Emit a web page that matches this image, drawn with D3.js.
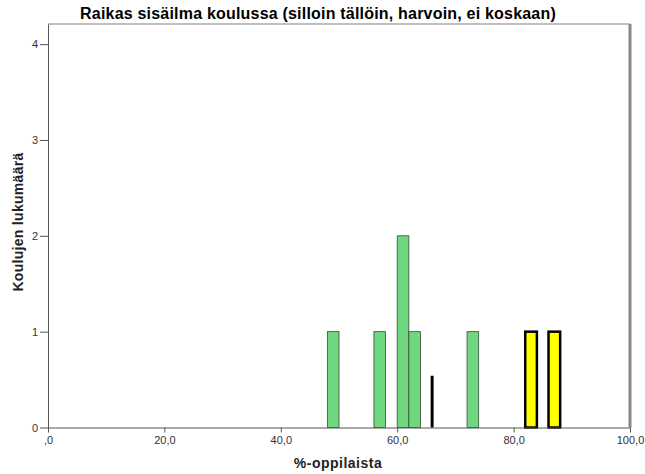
<!DOCTYPE html>
<html><head><meta charset="utf-8">
<script src="https://cdn.jsdelivr.net/npm/d3@7"></script>
<style>body{margin:0;background:#fff}svg{display:block}</style>
</head><body>
<script>
const greenBinStart = [48, 56, 60, 62, 72];
const greenCounts = [1, 1, 2, 1, 1];
const yellowBinStart = [82, 86];
const yellowCounts = [1, 1];
const binWidth = 2;
const markerX = [66];
const markerH = [0.54];
const xTickValues = [0, 20, 40, 60, 80, 100];
const xTickLabels = [",0", "20,0", "40,0", "60,0", "80,0", "100,0"];
const yTickValues = [0, 1, 2, 3, 4];

const W = 645, H = 474;
const m = {l: 48, r: 15, t: 24, b: 46.5};
const svg = d3.select("body").append("svg").attr("width", W).attr("height", H);
const x = d3.scaleLinear().domain([0, 100]).range([m.l, W - m.r]);
const y = d3.scaleLinear().domain([0, 4.21]).range([H - m.b, m.t]);

// frame
svg.append("line").attr("x1", m.l).attr("x2", W - m.r).attr("y1", m.t).attr("y2", m.t)
  .attr("stroke", "#aaa").attr("stroke-width", 1.5);
svg.append("line").attr("x1", W - m.r).attr("x2", W - m.r).attr("y1", m.t).attr("y2", H - m.b)
  .attr("stroke", "#888").attr("stroke-width", 3);

const green = greenBinStart.map((s, i) => ({s, c: greenCounts[i]}));
const yellow = yellowBinStart.map((s, i) => ({s, c: yellowCounts[i]}));

svg.selectAll("rect.g").data(green).join("rect").attr("class", "g")
  .attr("x", d => x(d.s)).attr("width", d => x(d.s + binWidth) - x(d.s))
  .attr("y", d => y(d.c)).attr("height", d => y(0) - y(d.c))
  .attr("fill", "#6fd77e").attr("stroke", "#3a4a3c").attr("stroke-width", 0.8);

svg.selectAll("rect.y").data(yellow).join("rect").attr("class", "y")
  .attr("x", d => x(d.s)).attr("width", d => x(d.s + binWidth) - x(d.s))
  .attr("y", d => y(d.c)).attr("height", d => y(0) - y(d.c))
  .attr("fill", "#ffff00").attr("stroke", "#000").attr("stroke-width", 2.5);

svg.selectAll("line.mk").data(markerX).join("line").attr("class", "mk")
  .attr("x1", d => x(d)).attr("x2", d => x(d))
  .attr("y1", y(0)).attr("y2", (d, i) => y(markerH[i]))
  .attr("stroke", "#000").attr("stroke-width", 3);

// axes
const xa = svg.append("g").attr("transform", `translate(0,${H - m.b})`)
  .call(d3.axisBottom(x).tickValues(xTickValues).tickFormat((d, i) => xTickLabels[i]).tickSize(5).tickSizeOuter(0));
const ya = svg.append("g").attr("transform", `translate(${m.l},0)`)
  .call(d3.axisLeft(y).tickValues(yTickValues).tickFormat(d3.format("d")).tickSize(8).tickPadding(2).tickSizeOuter(0));
[xa, ya].forEach(a => {
  a.select(".domain").attr("stroke", "#555");
  a.selectAll(".tick line").attr("stroke", "#555");
  a.selectAll("text").attr("font-family", "Liberation Sans, Arial, sans-serif").attr("font-size", 11).attr("fill", "#333");
});
xa.selectAll("text").attr("dy", "0.75em");

svg.append("text").attr("x", 318).attr("y", 19).attr("text-anchor", "middle")
  .attr("font-family", "Liberation Sans, Arial, sans-serif").attr("font-weight", "bold").attr("font-size", 16)
  .attr("letter-spacing", 0.2)
  .attr("fill", "#000").text("Raikas sisäilma koulussa (silloin tällöin, harvoin, ei koskaan)");
svg.append("text").attr("x", 338).attr("y", 468).attr("text-anchor", "middle")
  .attr("font-family", "Liberation Sans, Arial, sans-serif").attr("font-weight", "bold").attr("font-size", 14)
  .attr("letter-spacing", 0.5)
  .attr("fill", "#222").text("%-oppilaista");
svg.append("text").attr("transform", "translate(23,222) rotate(-90)").attr("text-anchor", "middle")
  .attr("font-family", "Liberation Sans, Arial, sans-serif").attr("font-weight", "bold").attr("font-size", 14)
  .attr("letter-spacing", 0.3)
  .attr("fill", "#222").text("Koulujen lukumäärä");
</script>
</body></html>
